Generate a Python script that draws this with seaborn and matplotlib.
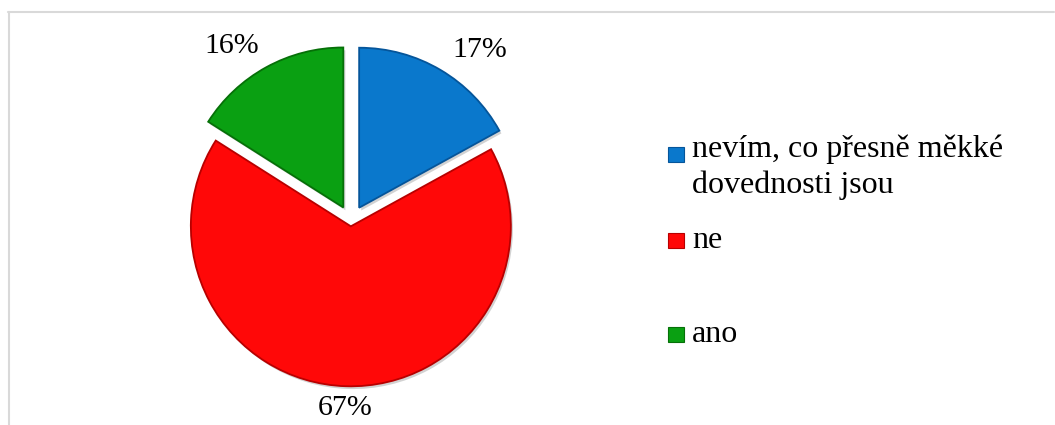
import numpy as np
import matplotlib
matplotlib.use("Agg")
import matplotlib.pyplot as plt
import matplotlib.patheffects as pe
from matplotlib.patches import Rectangle
from matplotlib.lines import Line2D
import seaborn as sns

# Survey answers: does the respondent know what soft skills are?
categories = ["nevím, co přesně měkké\ndovednosti jsou", "ne", "ano"]
shares = [17, 67, 16]
slice_colors = ["#0A78CC", "#FF0808", "#0AA012"]
edge_colors = ["#05559A", "#B80000", "#067008"]

sns.set_theme(style="white")
plt.rcParams["font.family"] = ["Liberation Serif", "DejaVu Serif"]

W, H, DPI = 1055, 425, 100
fig = plt.figure(figsize=(W / DPI, H / DPI), dpi=DPI)
fig.patch.set_facecolor("white")

# pie axes: square box centred on the pie
cx, cy, half = 351, 221.5, 200
ax = fig.add_axes([(cx - half) / W, 1 - (cy + half) / H, 2 * half / W, 2 * half / H])
lim = 1.25
ax.set_xlim(-lim, lim)
ax.set_ylim(-lim, lim)
ax.set_aspect("equal")
ax.axis("off")

palette = sns.color_palette(slice_colors)
explode = [0.10, 0.03, 0.10]
wedges, _, pct_texts = ax.pie(
    shares, explode=explode, colors=palette, startangle=90, counterclock=False,
    radius=1.0, autopct=lambda p: f"{p:.0f}%", pctdistance=1.2,
    wedgeprops=dict(linewidth=1.3),
    textprops=dict(fontsize=21.5, color="black"),
)
ax.set_xlim(-lim, lim)
ax.set_ylim(-lim, lim)

shadow = [pe.SimplePatchShadow(offset=(1.5, -2), shadow_rgbFace="#808080", alpha=0.35), pe.Normal()]
gaps = [0.11, 0.055, 0.10]
nudges = [(0.02, -0.012), (0.0, 0.0), (0.0, 0.0)]
for w, ec, t, g, (nx, ny) in zip(wedges, edge_colors, pct_texts, gaps, nudges):
    w.set_edgecolor(ec)
    w.set_path_effects(shadow)
    mid = np.deg2rad((w.theta1 + w.theta2) / 2)
    dx, dy = np.cos(mid), np.sin(mid)
    px = w.center[0] + dx * (w.r + g) + nx
    py = w.center[1] + dy * (w.r + g) + ny
    ha = "left" if dx > 0.1 else ("right" if dx < -0.1 else "center")
    va = "baseline" if dy > 0.1 else ("top" if dy < -0.1 else "center")
    t.set_position((px, py))
    t.set_ha(ha)
    t.set_va(va)

# legend drawn in figure pixels
marker_x, marker_w, marker_h = 668, 16, 15
text_x = 692
baselines = [157, 248, 342]
marker_drop = [5, 0, 0]
line_pitch = 36
for label, fc, ec, base, drop in zip(categories, slice_colors, edge_colors, baselines, marker_drop):
    bottom = base + drop
    fig.patches.append(Rectangle(
        (marker_x / W, 1 - bottom / H), marker_w / W, marker_h / H,
        transform=fig.transFigure, facecolor=fc, edgecolor=ec, linewidth=0.8))
    for k, line in enumerate(label.split("\n")):
        fig.text(text_x / W, 1 - (base + k * line_pitch) / H, line,
                 fontsize=23, color="black", ha="left", va="baseline")

# chart area frame (top and left edges)
frame_kw = dict(transform=fig.transFigure, color="#D9D9D9", linewidth=1.5)
fig.lines.append(Line2D([8 / W, 1054 / W], [1 - 11.5 / H, 1 - 11.5 / H], **frame_kw))
fig.lines.append(Line2D([8.5 / W, 8.5 / W], [1 - 11.5 / H, 0], **frame_kw))

fig.savefig("out.png", dpi=DPI, facecolor="white")
